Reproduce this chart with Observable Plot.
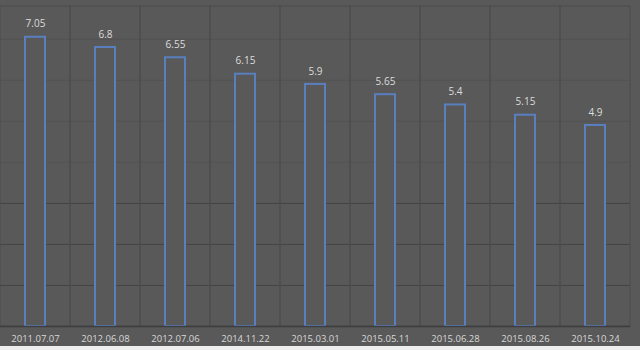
<!DOCTYPE html>
<html>
<head>
<meta charset="utf-8">
<script src="https://cdn.jsdelivr.net/npm/d3@7"></script>
<script src="https://cdn.jsdelivr.net/npm/@observablehq/plot@0.6"></script>
<style>
  html, body { margin: 0; padding: 0; background: #eeeeee; }
  #chart { width: 640px; height: 350px; overflow: hidden; }
  svg { display: block; }
</style>
</head>
<body>
<div id="chart"></div>
<script>
const dates = ["2011.07.07","2012.06.08","2012.07.06","2014.11.22","2015.03.01","2015.05.11","2015.06.28","2015.08.26","2015.10.24"];
const values = [7.05, 6.8, 6.55, 6.15, 5.9, 5.65, 5.4, 5.15, 4.9];
const labels = ["7.05","6.8","6.55","6.15","5.9","5.65","5.4","5.15","4.9"];
const yMax = 7.8;
const lowTicks = [1, 2, 3];
const highTicks = [4, 5, 6, 7];

const data = dates.map((d, i) => ({date: d, value: values[i], label: labels[i]}));

const chart = Plot.plot({
  width: 640,
  height: 346,
  marginLeft: 0,
  marginRight: 10,
  marginTop: 6,
  marginBottom: 20,
  style: {background: "#595959", fontFamily: "'Open Sans', 'Noto Sans', sans-serif"},
  x: {domain: dates, padding: 0, label: null},
  y: {domain: [0, yMax], label: null},
  marks: [
    Plot.gridY(highTicks, {stroke: "#535353", strokeOpacity: 1, strokeWidth: 1}),
    Plot.gridY(lowTicks, {stroke: "#444444", strokeOpacity: 1, strokeWidth: 1}),
    Plot.barY(data, {x: "date", y1: 0, y2: yMax, fill: "none", stroke: "#4d4d4d", strokeWidth: 1}),
    Plot.barY(data, {x: "date", y: "value", insetLeft: 25, insetRight: 25, fill: "#595959", stroke: "#5a7fbf", strokeWidth: 2}),
    Plot.text(data, {x: "date", y: "value", text: "label", dy: -13, fill: "#dcdcdc", fontSize: 10}),
    Plot.ruleY([0], {stroke: "#3e3e3e", strokeWidth: 1.5}),
    Plot.axisX({tickSize: 0, tickPadding: 9, fontSize: 9.5, color: "#d8d8d8"}),
    Plot.axisY({ticks: [], tickSize: 0, label: null})
  ]
});
document.getElementById("chart").append(chart);
</script>
</body>
</html>
